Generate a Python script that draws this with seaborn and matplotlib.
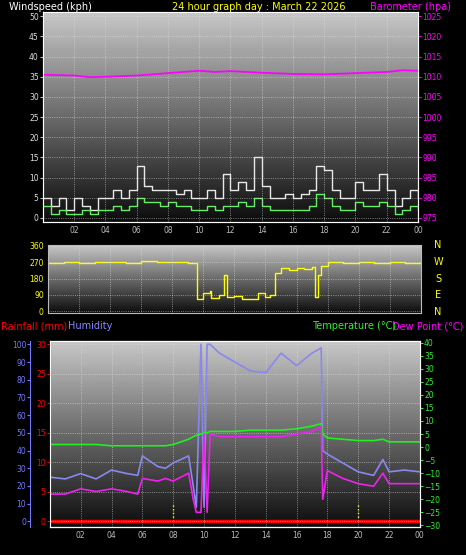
import numpy as np
import matplotlib
matplotlib.use("Agg")
import matplotlib.pyplot as plt
import seaborn as sns

# ---- data (hours since midnight) ----
wind_hours = [i * 0.5 for i in range(49)]
wind_gust = [5, 3, 5, 2, 5, 3, 2, 5, 5, 7, 5, 7, 13, 8, 7, 7, 7, 6, 7, 5, 5, 7, 5, 11,
             7, 9, 7, 15, 8, 5, 5, 6, 5, 6, 7, 13, 12, 7, 5, 5, 9, 7, 7, 11, 7, 3, 5, 7, 5]
wind_avg = [3, 1, 2, 1, 1, 2, 1, 2, 2, 3, 2, 3, 5, 4, 4, 3, 4, 3, 3, 2, 2, 3, 2, 3,
            3, 4, 3, 5, 3, 2, 2, 2, 2, 2, 3, 6, 5, 3, 2, 2, 4, 3, 3, 4, 3, 1, 2, 3, 2]
baro_hours = [0, 2, 3, 4, 6, 8, 10, 11, 12, 14, 16, 18, 20, 22, 23, 24]
baro = [1010.5, 1010.3, 1009.9, 1010.0, 1010.3, 1010.9, 1011.5, 1011.2, 1011.4, 1011.0,
        1010.7, 1010.6, 1010.9, 1011.2, 1011.6, 1011.5]

dir_hours = [0, 1, 2, 3, 4, 5, 6, 7, 8, 9, 9.5, 9.6, 10, 10.4, 10.5, 11, 11.3, 11.5, 12, 12.5,
             13, 13.5, 14, 14.3, 14.6, 15, 15.5, 16, 16.5, 17, 17.2, 17.4, 17.6, 18, 19, 20, 21,
             22, 23, 24]
wind_dir = [265, 270, 265, 270, 270, 265, 275, 270, 270, 268, 265, 70, 100, 110, 75, 90, 200,
            80, 85, 70, 70, 100, 80, 90, 210, 240, 230, 240, 235, 245, 80, 200, 250, 270, 265,
            270, 265, 270, 268, 270]

th_hours = [0, 1, 2, 3, 4, 5, 5.7, 6, 7, 7.5, 8, 9, 9.3, 9.5, 9.8, 10.0, 10.2, 10.4, 11, 12,
            13, 14, 15, 16, 17, 17.6, 17.7, 18, 19, 20, 21, 21.6, 22, 23, 24]
temp = [1, 1, 1, 1, 0.5, 0.5, 0.5, 0.5, 0.5, 0.5, 1, 3, 4, 4.5, 5, 5.5, 5.5, 6, 6, 6, 6.5,
        6.5, 6.5, 7, 8, 9, 5, 3.5, 3, 2.5, 2.5, 3, 2, 2, 2]
dew = [-18, -18, -16, -17, -16, -17, -18, -12, -13, -12, -13, -10, -20, -25, -25, 5, -25, 5,
       4, 4, 4, 4, 4, 5, 6, 8, -20, -9, -12, -14, -15, -10, -14, -14, -14]
humidity = [25, 24, 27, 24, 29, 27, 26, 37, 31, 30, 33, 37, 20, 8, 100, 8, 100, 100, 95, 90,
            85, 84, 95, 88, 95, 98, 40, 38, 33, 28, 26, 35, 28, 29, 28]
rain_hours = [0, 24]
rain = [0, 0]

tick_hours = list(range(2, 25, 2))
tick_labels = ["02", "04", "06", "08", "10", "12", "14", "16", "18", "20", "22", "00"]

sns.set_style("dark")
plt.rcParams["font.family"] = ["DejaVu Sans"]
fig = plt.figure(figsize=(4.66, 5.55), dpi=100, facecolor="black")
fs = 5.5


def style_panel(ax, ylim):
    grad = np.linspace(0.78, 0.05, 200).reshape(-1, 1)
    ax.imshow(grad, cmap="gray", vmin=0, vmax=1, aspect="auto",
              extent=[0, 24, ylim[0], ylim[1]], zorder=0)
    ax.set_xlim(0, 24)
    ax.set_ylim(*ylim)
    ax.set_xticks(tick_hours)
    ax.set_xticklabels(tick_labels, color="yellow", fontsize=fs)
    ax.grid(True, color="#e0e0e0", linestyle=":", linewidth=0.6, alpha=0.7, zorder=1)
    ax.set_axisbelow(False)
    for s in ax.spines.values():
        s.set_color("#bbbbbb")
    ax.tick_params(length=2, pad=1, colors="#bbbbbb")
    ax.set_xlabel("")
    ax.set_ylabel("")


# ---- top: wind & barometer ----
ax1 = fig.add_axes([0.092, 0.6, 0.805, 0.378])
style_panel(ax1, (-1, 51))
ax1.set_yticks(range(0, 51, 5))
ax1.tick_params(axis="y", labelcolor="#dddddd", labelsize=fs)
sns.lineplot(x=wind_hours, y=wind_gust, ax=ax1, color="#e8e8e8", lw=1, drawstyle="steps-post")
sns.lineplot(x=wind_hours, y=wind_avg, ax=ax1, color="#66ee66", lw=1, drawstyle="steps-post")
ax1b = ax1.twinx()
ax1b.set_ylim(974, 1026)
ax1b.set_yticks(range(975, 1026, 5))
ax1b.tick_params(axis="y", labelcolor="magenta", colors="magenta", labelsize=fs, length=2, pad=1)
sns.lineplot(x=baro_hours, y=baro, ax=ax1b, color="magenta", lw=1.3)
ax1b.set_ylabel("")
ax1b.grid(False)
fig.text(0.02, 0.988, "Windspeed (kph)", color="white", fontsize=7, va="center")
fig.text(0.37, 0.988, "24 hour graph day : March 22 2026", color="yellow", fontsize=7, va="center")
fig.text(0.795, 0.988, "Barometer (hpa)", color="magenta", fontsize=7, va="center")

# ---- middle: wind direction ----
ax2 = fig.add_axes([0.103, 0.436, 0.8, 0.1225])
style_panel(ax2, (-10, 365))
ax2.set_yticks([0, 90, 180, 270, 360])
ax2.set_xticklabels([])
ax2.tick_params(axis="y", labelcolor="yellow", labelsize=fs)
sns.lineplot(x=dir_hours, y=wind_dir, ax=ax2, color="yellow", lw=1, drawstyle="steps-post")
for i, c in enumerate(["N", "W", "S", "E", "N"]):
    fig.text(0.94, 0.558 - i * 0.03, c, color="yellow", fontsize=7, ha="center", va="center")

fig.text(0.003, 0.412, "Rainfall (mm)", color="red", fontsize=7, va="center")
fig.text(0.145, 0.412, "Humidity", color="#8888ff", fontsize=7, va="center")
fig.text(0.67, 0.412, "Temperature (\u00b0C)", color="#33ee33", fontsize=7, va="center")
fig.text(0.842, 0.412, "Dew Point (\u00b0C)", color="magenta", fontsize=7, va="center")

# ---- bottom: rain, humidity, temperature ----
ax3 = fig.add_axes([0.107, 0.05, 0.794, 0.335])
style_panel(ax3, (-1, 30.5))
ax3.set_yticks(range(0, 31, 5))
ax3.tick_params(axis="y", labelcolor="red", colors="red", labelsize=fs)
ax3.spines["left"].set_color("red")
ax3.vlines([8, 20], 0, 3, colors="yellow", linestyles=":", lw=1)
sns.lineplot(x=rain_hours, y=rain, ax=ax3, color="red", lw=2.5)

axh = ax3.twinx()
axh.spines["left"].set_position(("outward", 14))
axh.spines["left"].set_visible(True)
axh.spines["left"].set_color("#7777ff")
axh.spines["right"].set_visible(False)
axh.yaxis.set_ticks_position("left")
axh.yaxis.set_label_position("left")
axh.set_ylim(-3.3, 101.7)
axh.set_yticks(range(0, 101, 10))
axh.tick_params(axis="y", labelcolor="#7777ff", colors="#7777ff", labelsize=fs, length=2, pad=1)
sns.lineplot(x=th_hours, y=humidity, ax=axh, color="#8888ee", lw=1.2)
axh.set_ylabel("")
axh.grid(False)

axt = ax3.twinx()
axt.set_ylim(-30.7, 40.5)
axt.set_yticks(range(-30, 41, 5))
axt.tick_params(axis="y", labelcolor="#33ee33", colors="#33ee33", labelsize=fs, length=2, pad=1)
sns.lineplot(x=th_hours, y=temp, ax=axt, color="#22ee22", lw=1.2)
sns.lineplot(x=th_hours, y=dew, ax=axt, color="#ee22ee", lw=1.2)
axt.set_ylabel("")
axt.grid(False)

fig.savefig("out.png", dpi=100, facecolor="black")
